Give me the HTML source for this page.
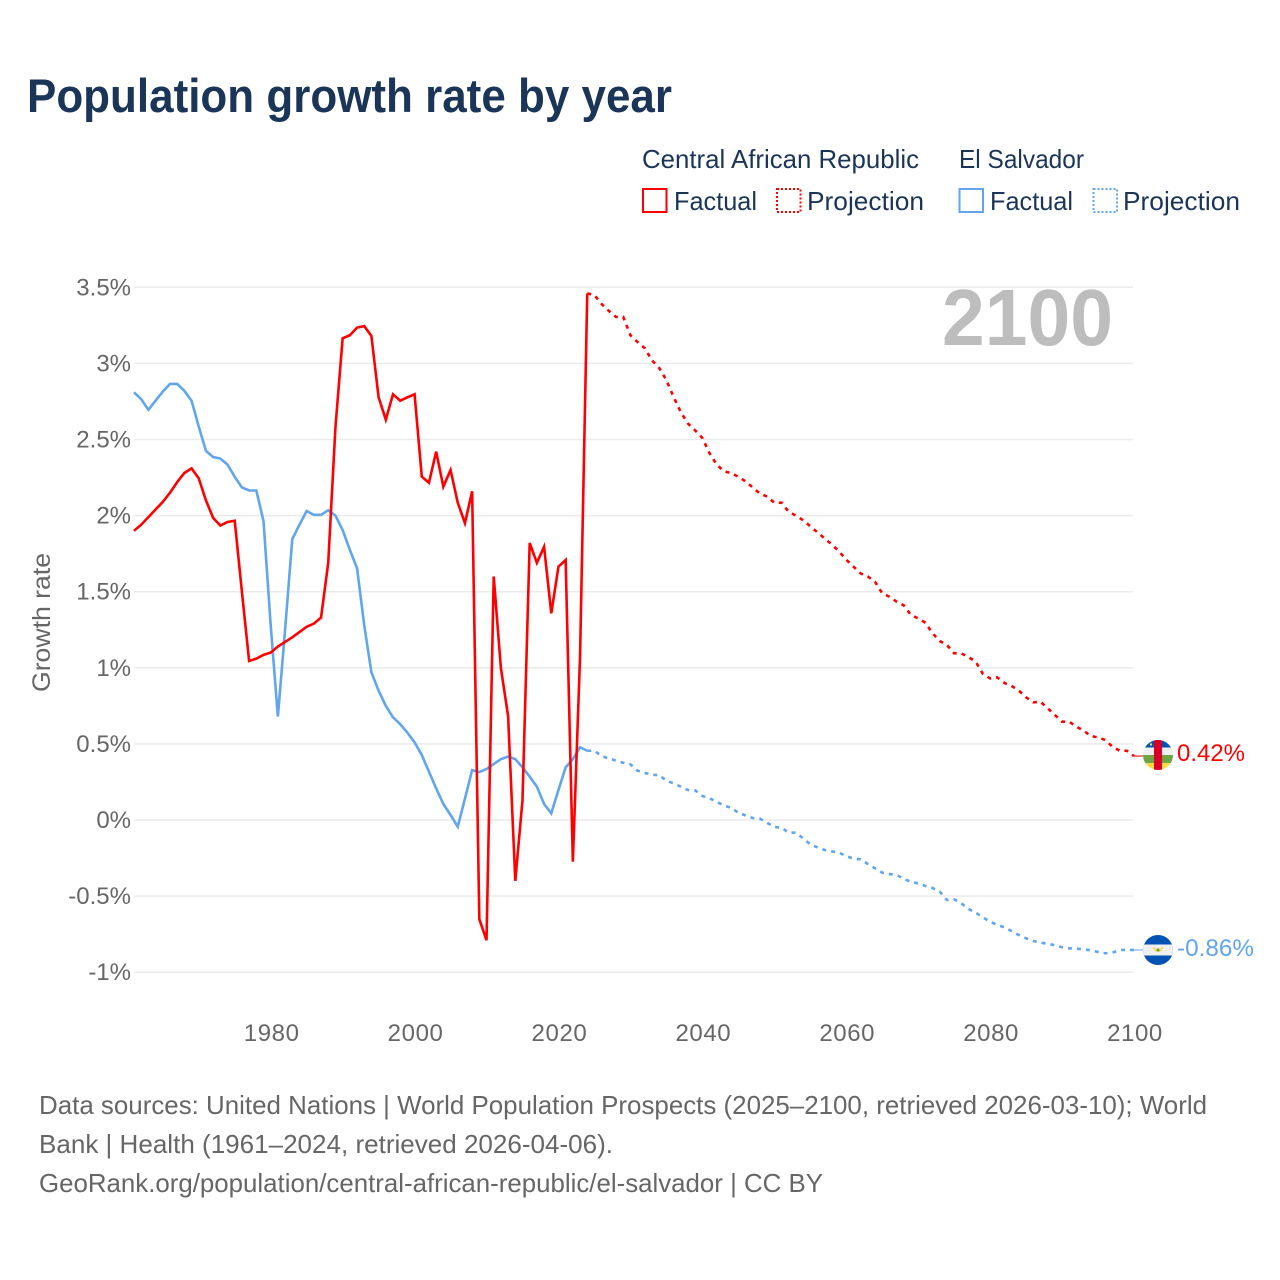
<!DOCTYPE html>
<html lang="en">
<head>
<meta charset="utf-8">
<title>Population growth rate by year</title>
<style>
html,body{margin:0;padding:0;background:#fff;}
svg{display:block;font-family:"Liberation Sans",sans-serif;}
.legend-text{font-size:26px;fill:#1a3557;}
.foot{font-size:26px;fill:#666;}
.tick{font-size:24px;fill:#666;}
</style>
</head>
<body>
<svg id="chart" xmlns="http://www.w3.org/2000/svg" width="1280" height="1280" viewBox="0 0 1280 1280">
  <rect x="0" y="0" width="1280" height="1280" fill="#fff"/>
  <text x="27" y="112" font-size="47" font-weight="700" fill="#1a3557" textLength="645" lengthAdjust="spacingAndGlyphs">Population growth rate by year</text>

  <g>
    <text class="legend-text" x="642" y="168" textLength="277" lengthAdjust="spacingAndGlyphs">Central African Republic</text>
    <text class="legend-text" x="959" y="168" textLength="125" lengthAdjust="spacingAndGlyphs">El Salvador</text>
    <rect x="643" y="189" width="23.5" height="23" fill="none" stroke="#ff0000" stroke-width="2"/>
    <text class="legend-text" x="674" y="210" textLength="83" lengthAdjust="spacingAndGlyphs">Factual</text>
    <rect x="777" y="189" width="23.5" height="23" fill="none" stroke="#ff0000" stroke-width="2" stroke-dasharray="2,2"/>
    <text class="legend-text" x="807" y="210" textLength="117" lengthAdjust="spacingAndGlyphs">Projection</text>
    <rect x="959.5" y="189" width="23.5" height="23" fill="none" stroke="#60a5ee" stroke-width="2"/>
    <text class="legend-text" x="990" y="210" textLength="83" lengthAdjust="spacingAndGlyphs">Factual</text>
    <rect x="1093.5" y="189" width="23.5" height="23" fill="none" stroke="#60a5ee" stroke-width="2" stroke-dasharray="2,2"/>
    <text class="legend-text" x="1123" y="210" textLength="117" lengthAdjust="spacingAndGlyphs">Projection</text>
  </g>

  <g id="grid"></g>
  <g id="yaxis"></g>
  <g id="xaxis"></g>

  <text transform="translate(50,692) rotate(-90)" font-size="25" fill="#666" textLength="139" lengthAdjust="spacingAndGlyphs">Growth rate</text>
  <text x="942" y="345" font-size="80" font-weight="700" fill="#bdbdbd" textLength="171" lengthAdjust="spacingAndGlyphs">2100</text>

  <g id="series"></g>

  <defs>
    <clipPath id="flagClipCar"><circle cx="1158" cy="755" r="15"/></clipPath>
    <clipPath id="flagClipSv"><circle cx="1158" cy="950" r="15"/></clipPath>
  </defs>
  <g clip-path="url(#flagClipCar)">
    <rect x="1143" y="740" width="30" height="7.5" fill="#0052b4"/>
    <rect x="1143" y="747.5" width="30" height="7.5" fill="#f0f0f0"/>
    <rect x="1143" y="755" width="30" height="8" fill="#6da544"/>
    <rect x="1143" y="763" width="30" height="7" fill="#ffda44"/>
    <rect x="1154" y="740" width="8" height="30" fill="#d80027"/>
    <circle cx="1151" cy="744.5" r="1.2" fill="#ffda44"/>
  </g>
  <g clip-path="url(#flagClipSv)">
    <rect x="1143" y="935" width="30" height="30" fill="#0052b4"/>
    <rect x="1143" y="944.5" width="30" height="11" fill="#f0f0f0"/>
    <path d="M1153 947a5 5 0 0 0 10 0l-1.5 0-2 3-1.5-2-1.5 2-2-3z" fill="#ffda44"/>
    <circle cx="1158" cy="950" r="1.6" fill="#6da544"/>
  </g>
  <text x="1177" y="761" font-size="24" fill="#ff0000" textLength="68" lengthAdjust="spacingAndGlyphs">0.42%</text>
  <text x="1177" y="956" font-size="24" fill="#60a5ee" textLength="77" lengthAdjust="spacingAndGlyphs">-0.86%</text>

  <g>
    <text class="foot" x="39" y="1114" textLength="1168" lengthAdjust="spacingAndGlyphs">Data sources: United Nations | World Population Prospects (2025–2100, retrieved 2026-03-10); World</text>
    <text class="foot" x="39" y="1153" textLength="574" lengthAdjust="spacingAndGlyphs">Bank | Health (1961–2024, retrieved 2026-04-06).</text>
    <text class="foot" x="39" y="1192" textLength="784" lengthAdjust="spacingAndGlyphs">GeoRank.org/population/central-african-republic/el-salvador | CC BY</text>
  </g>
</svg>
<script>
var yTickValues = [3.5, 3, 2.5, 2, 1.5, 1, 0.5, 0, -0.5, -1];
var yTickLabels = ["3.5%", "3%", "2.5%", "2%", "1.5%", "1%", "0.5%", "0%", "-0.5%", "-1%"];
var xTickYears = [1980, 2000, 2020, 2040, 2060, 2080, 2100];
var firstYear = 1961;
var projectionStartYear = 2025;
var carFactual = [1.90,1.94,1.99,2.04,2.09,2.15,2.22,2.28,2.31,2.245,2.10,1.985,1.935,1.958,1.966,1.50,1.045,1.06,1.085,1.10,1.14,1.17,1.20,1.235,1.27,1.29,1.33,1.69,2.58,3.165,3.185,3.235,3.245,3.18,2.777,2.63,2.797,2.755,2.777,2.797,2.256,2.216,2.42,2.19,2.30,2.085,1.95,2.16,-0.652,-0.79,1.60,0.997,0.683,-0.40,0.13,1.82,1.69,1.795,1.358,1.665,1.708,-0.274,1.073,3.46];
var carProjection = [3.449,3.39,3.345,3.305,3.305,3.185,3.14,3.10,3.02,2.97,2.89,2.78,2.68,2.605,2.56,2.51,2.41,2.335,2.29,2.28,2.255,2.225,2.185,2.145,2.125,2.085,2.085,2.025,2.00,1.97,1.93,1.89,1.85,1.81,1.765,1.71,1.665,1.62,1.60,1.565,1.49,1.467,1.435,1.41,1.347,1.325,1.296,1.227,1.176,1.15,1.095,1.095,1.07,1.04,0.96,0.93,0.937,0.90,0.88,0.85,0.806,0.773,0.777,0.734,0.69,0.646,0.646,0.613,0.587,0.552,0.543,0.526,0.482,0.455,0.455,0.42];
var svFactual = [2.81,2.765,2.695,2.755,2.815,2.865,2.865,2.82,2.755,2.585,2.425,2.385,2.375,2.335,2.255,2.185,2.165,2.165,1.965,1.28,0.68,1.25,1.845,1.94,2.03,2.005,2.005,2.035,2.00,1.905,1.775,1.655,1.28,0.97,0.85,0.75,0.675,0.63,0.574,0.51,0.427,0.317,0.208,0.105,0.033,-0.044,0.14,0.328,0.315,0.335,0.368,0.40,0.416,0.40,0.346,0.285,0.219,0.105,0.044,0.197,0.346,0.40,0.478,0.455];
var svProjection = [0.455,0.42,0.405,0.39,0.376,0.366,0.324,0.31,0.296,0.296,0.258,0.241,0.219,0.197,0.195,0.158,0.142,0.12,0.094,0.081,0.048,0.03,0.013,0.009,-0.018,-0.046,-0.05,-0.083,-0.083,-0.12,-0.16,-0.18,-0.197,-0.206,-0.215,-0.237,-0.254,-0.258,-0.289,-0.317,-0.346,-0.355,-0.361,-0.386,-0.407,-0.416,-0.434,-0.447,-0.471,-0.526,-0.521,-0.547,-0.585,-0.609,-0.64,-0.668,-0.69,-0.705,-0.73,-0.756,-0.777,-0.795,-0.806,-0.813,-0.823,-0.836,-0.843,-0.845,-0.85,-0.856,-0.867,-0.876,-0.872,-0.854,-0.854,-0.854];

var NS = "http://www.w3.org/2000/svg";
function xScale(year) { return 134 + (year - 1961) * (1000 / 139); }
function yScale(v) { return 820 - v * 152.2; }
function makeEl(tag) { return document.createElementNS(NS, tag); }
function linePath(values, startYear) {
  var d = "";
  for (var i = 0; i < values.length; i++) {
    d += (i ? "L" : "M") + xScale(startYear + i).toFixed(2) + " " + yScale(values[i]).toFixed(2);
  }
  return d;
}

var grid = document.getElementById("grid");
var yaxis = document.getElementById("yaxis");
yTickValues.forEach(function (v, i) {
  var l = makeEl("line");
  
  
  l.setAttribute("x1", 134);
  l.setAttribute("x2", 1133);
  l.setAttribute("y1", yScale(v));
  l.setAttribute("y2", yScale(v));
  l.setAttribute("stroke", "#ebebeb");
  l.setAttribute("stroke-width", 1.5);
  grid.appendChild(l);
  var t = makeEl("text");
  
  
  t.setAttribute("class", "tick");
  t.setAttribute("x", 131);
  t.setAttribute("y", yScale(v) + 8);
  t.setAttribute("text-anchor", "end");
  t.textContent = yTickLabels[i];
  yaxis.appendChild(t);
});

var xaxis = document.getElementById("xaxis");
xTickYears.forEach(function (yr) {
  var t = makeEl("text");
  
  
  t.setAttribute("class", "tick");
  t.setAttribute("x", xScale(yr) + 1);
  t.setAttribute("y", 1041);
  t.setAttribute("text-anchor", "middle");
  t.setAttribute("letter-spacing", "0.6");
  t.textContent = String(yr);
  xaxis.appendChild(t);
});

var series = document.getElementById("series");

var svSolid = makeEl("path");


svSolid.setAttribute("d", linePath(svFactual, firstYear));
svSolid.setAttribute("fill", "none");
svSolid.setAttribute("stroke", "#60a5ee");
svSolid.setAttribute("stroke-width", 2.6);
series.appendChild(svSolid);

var svDash = makeEl("path");


svDash.setAttribute("d", linePath([svFactual[svFactual.length - 1]].concat(svProjection), projectionStartYear - 1));
svDash.setAttribute("fill", "none");
svDash.setAttribute("stroke", "#60a5ee");
svDash.setAttribute("stroke-width", 2.6);
svDash.setAttribute("stroke-dasharray", "4,5");
series.appendChild(svDash);

var carSolid = makeEl("path");


carSolid.setAttribute("d", linePath(carFactual, firstYear));
carSolid.setAttribute("fill", "none");
carSolid.setAttribute("stroke", "#ff0000");
carSolid.setAttribute("stroke-width", 2.6);
series.appendChild(carSolid);

var carDash = makeEl("path");


carDash.setAttribute("d", linePath([carFactual[carFactual.length - 1]].concat(carProjection), projectionStartYear - 1));
carDash.setAttribute("fill", "none");
carDash.setAttribute("stroke", "#ff0000");
carDash.setAttribute("stroke-width", 2.6);
carDash.setAttribute("stroke-dasharray", "4,5");
series.appendChild(carDash);

var carLead = makeEl("line");


carLead.setAttribute("x1", xScale(2100));
carLead.setAttribute("x2", 1143);
carLead.setAttribute("y1", yScale(carProjection[carProjection.length - 1]));
carLead.setAttribute("y2", yScale(carProjection[carProjection.length - 1]));
carLead.setAttribute("stroke", "#ff0000");
carLead.setAttribute("stroke-width", 1);
series.appendChild(carLead);

var svLead = makeEl("line");


svLead.setAttribute("x1", xScale(2100));
svLead.setAttribute("x2", 1143);
svLead.setAttribute("y1", yScale(svProjection[svProjection.length - 1]));
svLead.setAttribute("y2", yScale(svProjection[svProjection.length - 1]));
svLead.setAttribute("stroke", "#60a5ee");
svLead.setAttribute("stroke-width", 1);
series.appendChild(svLead);
</script>
</body>
</html>
